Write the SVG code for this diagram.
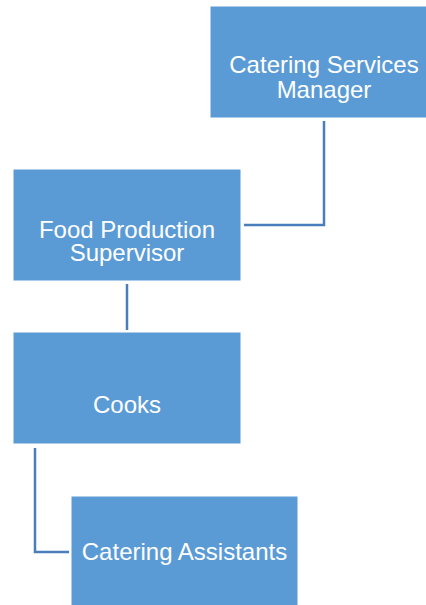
<svg xmlns="http://www.w3.org/2000/svg" width="426" height="605" viewBox="0 0 426 605">
<style>
.box{fill:#5B9BD5;stroke:#FFFFFF;stroke-width:1}
.lbl{font-family:"Liberation Sans",Arial,sans-serif;font-size:24px;fill:#FFFFFF;text-anchor:middle}
.conn{fill:none;stroke:#4A7EBB;stroke-width:2.5}
</style>
<rect width="426" height="605" fill="#FFFFFF"/>
<g id="connectors">
<polyline class="conn" points="324,121 324,225 244,225"/>
<line class="conn" x1="127" y1="284" x2="127" y2="330"/>
<polyline class="conn" points="35,448 35,552 69,552"/>
</g>
<g id="manager">
<rect class="box" x="210" y="6" width="228" height="112"/>
<text class="lbl" x="324" y="72.5">Catering Services</text>
<text class="lbl" x="324" y="97.5">Manager</text>
</g>
<g id="supervisor">
<rect class="box" x="13" y="169" width="228" height="112"/>
<text class="lbl" x="127" y="237.5">Food Production</text>
<text class="lbl" x="127" y="261">Supervisor</text>
</g>
<g id="cooks">
<rect class="box" x="13" y="332" width="228" height="112"/>
<text class="lbl" x="127" y="412.5">Cooks</text>
</g>
<g id="assistants">
<rect class="box" x="71" y="496" width="227" height="112"/>
<text class="lbl" x="184.5" y="559.5">Catering Assistants</text>
</g>
</svg>
